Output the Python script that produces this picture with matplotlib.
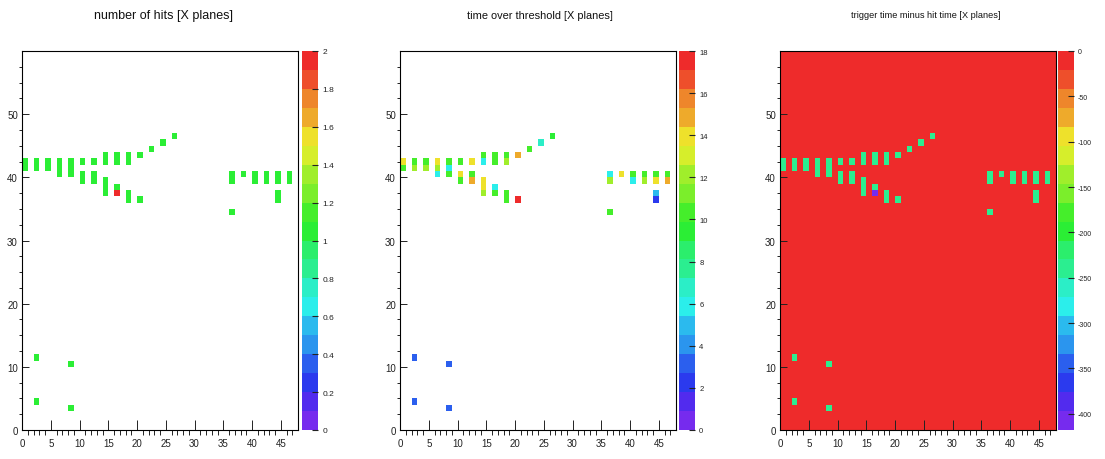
import colorsys
import numpy as np
import matplotlib
matplotlib.use("Agg")
import matplotlib.pyplot as plt
from matplotlib.colors import ListedColormap

plt.rcParams['font.family'] = ['Liberation Sans', 'DejaVu Sans']
plt.rcParams['axes.unicode_minus'] = False

# detector grid: plane number (x) vs strip (y)
n_planes = 48
n_strips = 60

# hit cells (X planes)
hit_x = [0, 0, 2, 2, 4, 4, 6, 6, 6, 8, 8, 8, 10, 10, 10, 12, 12, 12,
         14, 14, 14, 14, 14, 16, 16, 16, 16, 18, 18, 18, 18, 20, 20, 22, 24, 26,
         36, 36, 36, 38, 40, 40, 42, 42, 44, 44, 44, 44, 46, 46,
         2, 2, 8, 8]
hit_y = [41, 42, 41, 42, 41, 42, 40, 41, 42, 40, 41, 42, 39, 40, 42, 39, 40, 42,
         37, 38, 39, 42, 43, 37, 38, 42, 43, 36, 37, 42, 43, 36, 43, 44, 45, 46,
         34, 39, 40, 40, 39, 40, 39, 40, 36, 37, 39, 40, 39, 40,
         4, 11, 3, 10]

n_hits = [1] * len(hit_x)
n_hits[23] = 2

tot = [10, 13.5, 12, 10, 12, 10, 5.5, 12, 13.5, 10, 6, 10, 10, 13.5, 10, 15, 10, 13.5,
       12, 13.5, 13.5, 6, 10, 10, 6, 10, 10, 10, 10, 12, 10, 17.5, 15, 10, 7, 9,
       10, 12, 6, 13.5, 6, 10, 12, 10, 2.5, 4.5, 13.5, 10, 15, 10,
       3, 3, 3, 3]

dt = [-240] * len(hit_x)
dt[23] = -410

titles = ["number of hits [X planes]",
          "time over threshold [X planes]",
          "trigger time minus hit time [X planes]"]
z_ranges = [(0, 2), (0, 18), (-418, 0)]
cbar_ticks = [np.arange(0, 2.01, 0.2), np.arange(0, 18.1, 2), np.arange(-400, 1, 50)]


# old ROOT "pretty" palette, 20 contour levels
def root_palette(ncont=20, ncol=50):
    cols = []
    for j in range(ncont):
        k = int((j + 0.99) * ncol / ncont)
        hue = 280 - (k + 1) * 280.0 / ncol
        cols.append(colorsys.hls_to_rgb(max(hue, 0) / 360.0, 0.55, 0.85))
    return ListedColormap(cols)


cmap = root_palette()


def make_grid(vals, empty):
    g = np.full((n_strips, n_planes), empty, dtype=float)
    for x, y, v in zip(hit_x, hit_y, vals):
        g[y, x] = v
    return g


grids = [make_grid(n_hits, np.nan), make_grid(tot, np.nan), make_grid(dt, 0.0)]

W, H = 1105, 460


def box(l, t, w, h):
    return [l / W, 1 - (t + h) / H, w / W, h / H]


fig = plt.figure(figsize=(W / 100, H / 100), dpi=100)

ax_left = [22, 400, 780]
cb_left = [302, 679, 1058]
title_x = [163, 540, 926]
title_size = [9, 7.9, 6.6]
cb_size = [6, 5.5, 5]

for i in range(3):
    ax = fig.add_axes(box(ax_left[i], 52, 276, 379))
    zmin, zmax = z_ranges[i]
    mesh = ax.pcolormesh(np.arange(n_planes + 1), np.arange(n_strips + 1), grids[i],
                         cmap=cmap, vmin=zmin, vmax=zmax)
    ax.set_xlim(0, n_planes)
    ax.set_ylim(0, n_strips)
    ax.set_xticks(np.arange(0, 46, 5))
    ax.set_xticks(np.arange(0, 48, 1), minor=True)
    ax.set_yticks(np.arange(0, 51, 10))
    ax.set_yticks(np.arange(0, 60, 2.5), minor=True)
    ax.tick_params(direction='in', labelsize=7, colors='#222222', width=0.7)
    ax.tick_params(axis='x', which='major', length=7, pad=6)
    ax.tick_params(axis='x', which='minor', length=3.5)
    ax.tick_params(axis='y', which='major', length=5, pad=3)
    ax.tick_params(axis='y', which='minor', length=2.5)
    for s in ax.spines.values():
        s.set_linewidth(0.8)

    cax = fig.add_axes(box(cb_left[i], 52, 16, 379))
    cb = fig.colorbar(mesh, cax=cax, ticks=cbar_ticks[i])
    cb.outline.set_visible(False)
    cb.ax.set_yticklabels(['%g' % t for t in cbar_ticks[i]])
    cb.ax.tick_params(direction='in', length=4, width=0.8, labelsize=cb_size[i],
                      colors='#222222', pad=3)

    fig.text(title_x[i] / W, 1 - 16 / H, titles[i], ha='center', va='center',
             fontsize=title_size[i], color='#111111')

fig.savefig('out.png', dpi=100, facecolor='white')
